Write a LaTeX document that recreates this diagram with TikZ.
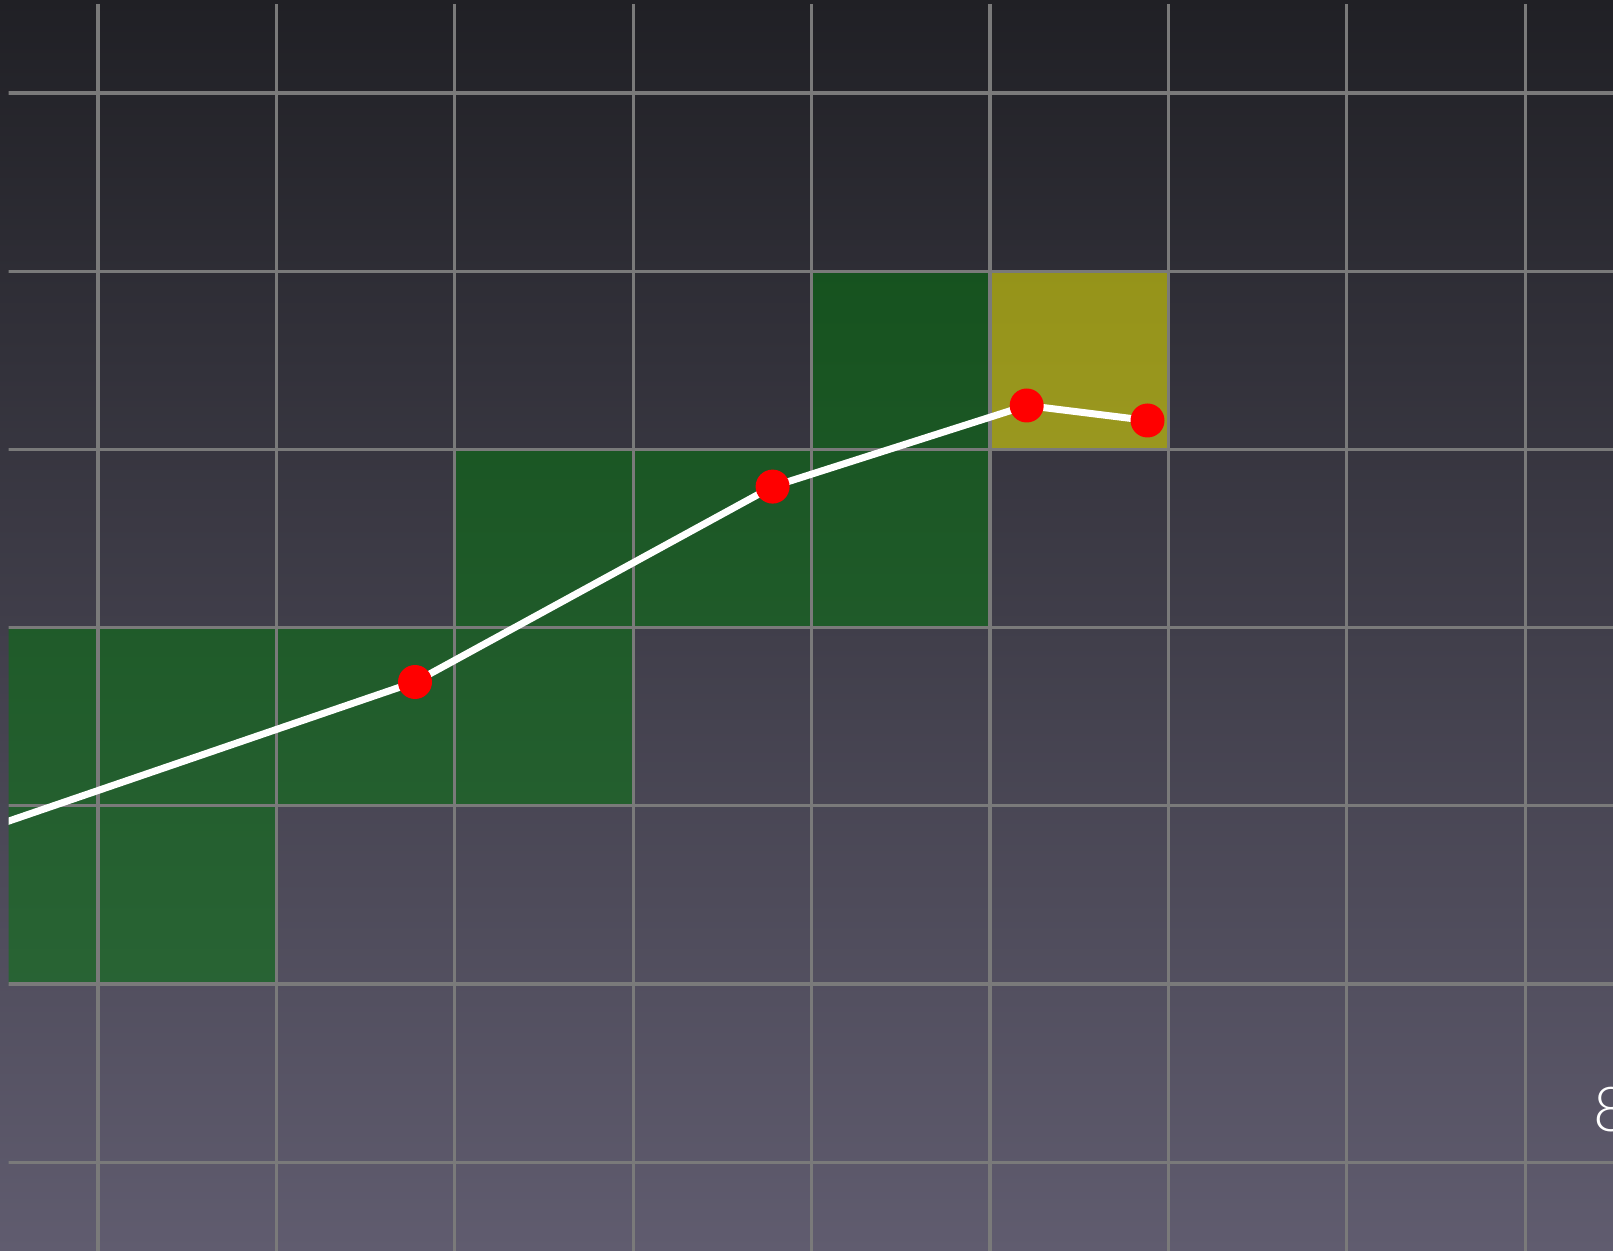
\documentclass[tikz,border=0pt]{standalone}
\usepackage{fontspec}
\newfontfamily\digitfont[UprightFont={* Light}]{Lato}
\definecolor{bgtop}{RGB}{32,32,37}
\definecolor{bgbot}{RGB}{96,92,111}
\definecolor{gridc}{RGB}{122,122,122}
\definecolor{cellgreen}{RGB}{0,120,10}
\definecolor{cellyellow}{RGB}{253,250,0}
\definecolor{dotred}{RGB}{255,0,0}
\tikzset{
  gridline/.style={draw=gridc, line width=1.6pt},
  greencell/.style={fill=cellgreen, fill opacity=0.5},
  yellowcell/.style={fill=cellyellow, fill opacity=0.5},
  pathline/.style={draw=white, line width=3.5pt, line join=round},
  dot/.style={circle, fill=dotred, inner sep=0pt, minimum size=17pt},
}
\begin{document}
\begin{tikzpicture}[x=0.5pt, y=-0.5pt]
\useasboundingbox (0,0) rectangle (1613,1251);
\shade[top color=bgtop, bottom color=bgbot] (0,0) rectangle (1613,1251);
\begin{scope}
\clip (8.5,5) rectangle (1613,1251);
% cells
\fill[greencell] (0,627.6) rectangle (633.2,805.8);
\fill[greencell] (0,805.8) rectangle (276.4,984);
\fill[greencell] (454.8,449.4) rectangle (990,627.6);
\fill[greencell] (811.6,271.2) rectangle (990,449.4);
\fill[yellowcell] (990,271.2) rectangle (1168.4,449.4);
% grid
\foreach \i in {0,...,8} {
  \draw[gridline] ({98+178.4*\i},0) -- ({98+178.4*\i},1260);
}
\foreach \j in {0,...,6} {
  \draw[gridline] (0,{93+178.2*\j}) -- (1620,{93+178.2*\j});
}
% polyline
\coordinate (p0) at (-10,827.5);
\coordinate (c1) at (415,682);
\coordinate (c2) at (772.6,486.6);
\coordinate (c3) at (1026.7,405.5);
\coordinate (c4) at (1147.5,420.5);
\draw[pathline] (p0) -- (c1) -- (c2) -- (c3) -- (c4);
\node[dot] (p1) at (c1) {};
\node[dot] (p2) at (c2) {};
\node[dot] (p3) at (c3) {};
\node[dot] (p4) at (c4) {};
% label
\node[anchor=west, inner sep=0pt, text=white, font=\digitfont\fontsize{31}{31}\selectfont] (lbl) at (1593,1110) {8};
\end{scope}
\end{tikzpicture}
\end{document}
